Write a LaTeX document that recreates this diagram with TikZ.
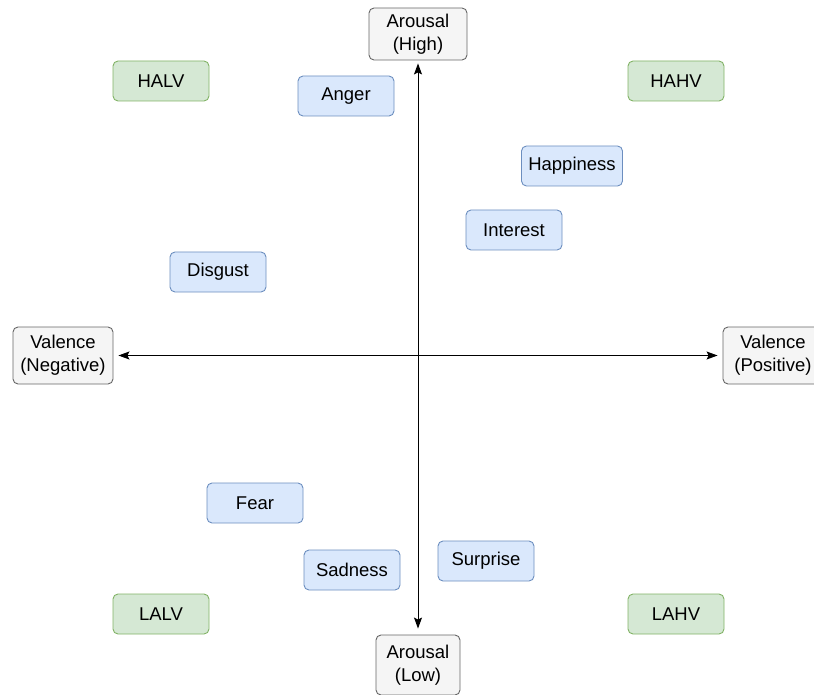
\documentclass[tikz,border=0pt]{standalone}
\usepackage{fontspec}
\setmainfont{Liberation Sans}
\usetikzlibrary{arrows.meta}
\definecolor{EmoFill}{HTML}{DAE8FC}
\definecolor{EmoLine}{HTML}{6C8EBF}
\definecolor{QuadFill}{HTML}{D5E8D4}
\definecolor{QuadLine}{HTML}{82B366}
\definecolor{AxisFill}{HTML}{F5F5F5}
\definecolor{AxisLine}{HTML}{666666}

\begin{document}
\begin{tikzpicture}[x=1pt, y=-1pt,
  box/.style={draw, rounded corners=5pt, line width=0.9pt, minimum width=96pt,
    minimum height=40pt, inner sep=0pt, font=\fontsize{18.5}{23}\selectfont},
  emo/.style={box, fill=EmoFill, draw=EmoLine},
  quad/.style={box, fill=QuadFill, draw=QuadLine},
  axislabel/.style={box, fill=AxisFill, draw=AxisLine, align=center},
  axis/.style={line width=1pt, {Stealth[length=11pt,width=8pt,inset=2pt]}-{Stealth[length=11pt,width=8pt,inset=2pt]}}]
\clip (0,0) rectangle (814,695);

% axis ends
\node[axislabel, minimum width=98pt, minimum height=52pt] (high) at (418,34) {Arousal\\(High)};
\node[axislabel, minimum width=84pt, minimum height=60pt] (low) at (418,665) {Arousal\\(Low)};
\node[axislabel, minimum width=100pt, minimum height=57pt] (neg) at (63,355.5) {Valence\\(Negative)};
\node[axislabel, minimum width=100pt, minimum height=57pt] (pos) at (773,355.5) {Valence\\(Positive)};

% quadrants
\node[quad] (halv) at (161,81) {HALV};
\node[quad] (hahv) at (676,81) {HAHV};
\node[quad] (lalv) at (161,614) {LALV};
\node[quad] (lahv) at (676,614) {LAHV};

% emotions, top to bottom
\node[emo] (anger) at (346,96) {Anger};
\node[emo, minimum width=101pt] (happiness) at (572,166) {Happiness};
\node[emo] (interest) at (514,230) {Interest};
\node[emo] (disgust) at (218,272) {Disgust};
\node[emo] (fear) at (255,503) {Fear};
\node[emo] (surprise) at (486,561) {Surprise};
\node[emo] (sadness) at (352,570) {Sadness};

\draw[axis, shorten <=6pt, shorten >=3pt] (low) -- (high);
\draw[axis, shorten <=5pt, shorten >=5pt] (neg) -- (pos);
\end{tikzpicture}
\end{document}
